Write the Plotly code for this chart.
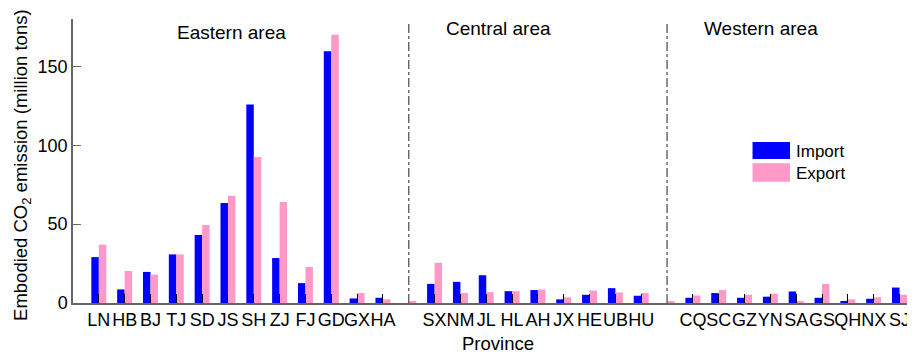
import plotly.graph_objects as go

# Province slots; "" marks the separator slot between areas
provinces = ["LN", "HB", "BJ", "TJ", "SD", "JS", "SH", "ZJ", "FJ", "GD", "GX", "HA", "",
             "SX", "NM", "JL", "HL", "AH", "JX", "HE", "UB", "HU", "",
             "CQ", "SC", "GZ", "YN", "SA", "GS", "QH", "NX", "SJ"]
import_vals = [29.1, 8.6, 19.7, 30.8, 43.1, 63.4, 125.8, 28.5, 12.6, 159.5, 2.9, 3.3, 0,
               12.1, 13.4, 17.6, 7.5, 8.2, 2.3, 5.2, 9.4, 4.6, 0,
               3.3, 6.3, 3.3, 4.0, 7.3, 3.3, 1.0, 2.7, 9.8]
export_vals = [37.0, 20.3, 18.0, 30.8, 49.4, 68.0, 92.5, 64.0, 22.8, 170.0, 6.3, 2.3, 0.8,
               25.5, 6.3, 6.9, 7.5, 8.6, 3.6, 7.9, 6.7, 6.3, 0.8,
               4.8, 8.2, 5.2, 5.9, 1.0, 12.1, 2.3, 3.6, 5.2]
area_names = ["Eastern area", "Central area", "Western area"]
y_ticks = [0, 50, 100, 150]

FONT = "Arial, Liberation Sans, sans-serif"
BLUE = "#0000FF"
PINK = "#FF99C8"
AXIS = "#666666"

xs = list(range(len(provinces)))
tickvals = [i for i, p in enumerate(provinces) if p]
ticktext = [p for p in provinces if p]
seps = [i for i, p in enumerate(provinces) if not p]

fig = go.Figure()
fig.add_trace(go.Bar(x=xs, y=import_vals, name="Import", marker=dict(color=BLUE, line=dict(width=0)),
                     showlegend=False))
fig.add_trace(go.Bar(x=xs, y=export_vals, name="Export", marker=dict(color=PINK, line=dict(width=0)),
                     showlegend=False))

shapes = []
for s in seps:
    shapes.append(dict(type="line", xref="x", yref="y", x0=s, x1=s, y0=0, y1=178.5,
                       line=dict(color="#555555", width=1.3, dash="dashdot")))
# legend patches
shapes.append(dict(type="rect", xref="x", yref="y", x0=25.31, x1=26.76, y0=91.2, y1=102.1,
                   fillcolor=BLUE, line=dict(width=0)))
shapes.append(dict(type="rect", xref="x", yref="y", x0=25.31, x1=26.76, y0=76.9, y1=88.5,
                   fillcolor=PINK, line=dict(width=0)))

annotations = []
area_x = [5.13, 15.48, 25.64]
area_y = [171.3, 173.9, 173.9]
for name, ax, ay in zip(area_names, area_x, area_y):
    annotations.append(dict(text=name, x=ax, y=ay, xref="x", yref="y", showarrow=False,
                            font=dict(size=19, color="black", family=FONT)))
annotations.append(dict(text="Import", x=26.9, y=96.2, xref="x", yref="y", xanchor="left",
                        showarrow=False, font=dict(size=17, color="black", family=FONT)))
annotations.append(dict(text="Export", x=26.9, y=82.3, xref="x", yref="y", xanchor="left",
                        showarrow=False, font=dict(size=17, color="black", family=FONT)))
annotations.append(dict(text="Province", x=0.505, y=-0.142, xref="paper", yref="paper",
                        showarrow=False, yanchor="middle", borderpad=0,
                        font=dict(size=18.5, color="black", family=FONT)))
annotations.append(dict(text="Embodied CO<sub>2</sub> emission (million tons)", x=-0.0606,
                        y=0.486, xref="paper", yref="paper", textangle=-90, showarrow=False,
                        xanchor="center", yanchor="middle",
                        font=dict(size=18.5, color="black", family=FONT)))

# the page body has an 8px default margin, so the figure is sized to end at the window edge
fig.update_layout(
    width=907, height=348,
    margin=dict(l=65, r=0, t=11, b=53, autoexpand=False),
    paper_bgcolor="white", plot_bgcolor="white",
    barmode="group", bargap=0.42, bargroupgap=0,
    font=dict(family=FONT, size=18, color="black"),
    shapes=shapes, annotations=annotations,
    xaxis=dict(range=[-1, 31.6], tickmode="array", tickvals=tickvals, ticktext=ticktext,
               ticks="inside", ticklen=9, tickcolor="black", tickwidth=1,
               showline=True, linecolor=AXIS, linewidth=1.5, showgrid=False, zeroline=False,
               tickfont=dict(size=18, family=FONT, color="black"), tickangle=0),
    yaxis=dict(range=[0, 180], tickmode="array", tickvals=y_ticks,
               ticks="inside", ticklen=8, tickcolor=AXIS, tickwidth=1,
               showline=True, linecolor=AXIS, linewidth=1.5, showgrid=False, zeroline=False,
               tickfont=dict(size=18, family=FONT, color="black")),
)

fig.write_html("out.html")
